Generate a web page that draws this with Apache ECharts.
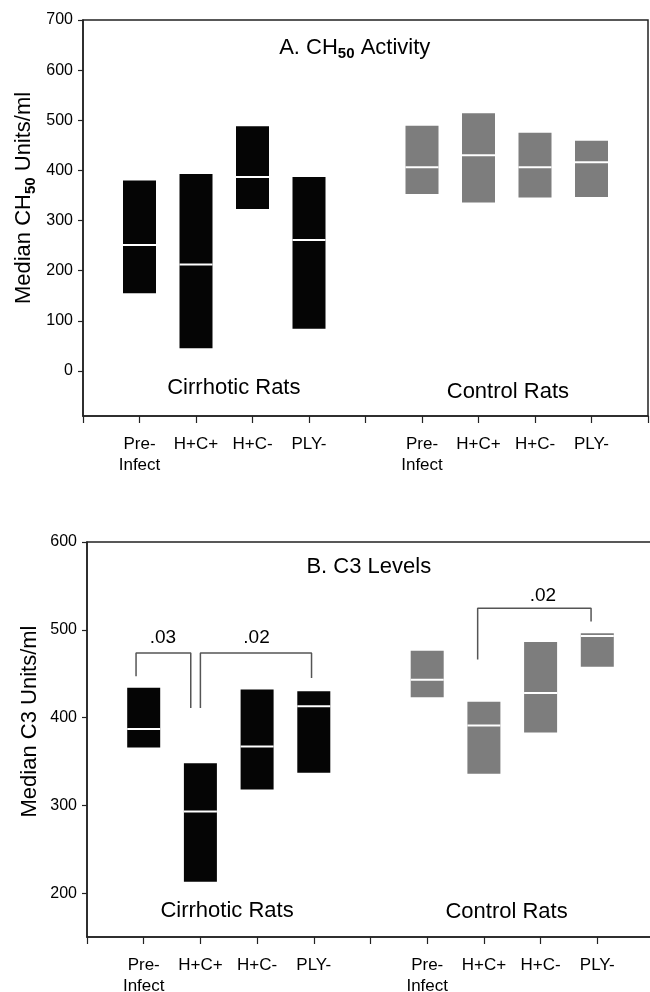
<!DOCTYPE html>
<html><head><meta charset="utf-8">
<script src="https://cdn.jsdelivr.net/npm/echarts@6/dist/echarts.min.js"></script>
<style>html,body{margin:0;padding:0;background:#fff}#c{width:650px;height:992px}</style>
</head><body><div id="c"></div>
<script>
// ---- data ----
const categories = ['', 'Pre-\nInfect', 'H+C+', 'H+C-', 'PLY-', '', 'Pre-\nInfect', 'H+C+', 'H+C-', 'PLY-', ''];
const cirrhoticIdx = [1, 2, 3, 4];
const controlIdx = [6, 7, 8, 9];

// Panel A: CH50 activity (low, median, high)
const ch50CirrLow  = [155, 45, 323, 84];
const ch50CirrMed  = [251, 212, 387, 261];
const ch50CirrHigh = [380, 393, 488, 387];
const ch50CtrlLow  = [353, 336, 346, 347];
const ch50CtrlMed  = [406, 430, 406, 416];
const ch50CtrlHigh = [489, 514, 475, 459];

// Panel B: C3 levels (low, median, high)
const c3CirrLow  = [366, 213, 318, 337];
const c3CirrMed  = [387, 293, 367, 413];
const c3CirrHigh = [434, 348, 432, 430];
const c3CtrlLow  = [423, 336, 383, 458];
const c3CtrlMed  = [443, 391, 428, 493];
const c3CtrlHigh = [476, 418, 486, 496];

const ch50Ticks = [0, 100, 200, 300, 400, 500, 600, 700];
const c3Ticks = [200, 300, 400, 500, 600];

// significance brackets (x in category units, y in data units)
const bracket03 = [[0.865, 447], [0.865, 473.5], [1.83, 473.5], [1.83, 411]];
const bracket02a = [[2.0, 411], [2.0, 473.5], [3.96, 473.5], [3.96, 445]];
const bracket02b = [[6.89, 466], [6.89, 524.6], [8.89, 524.6], [8.89, 509.4]];
const pLabels = [
  { text: '.03', x: 1.34, y: 490.6 },
  { text: '.02', x: 2.99, y: 490.6 },
  { text: '.02', x: 8.04, y: 538.6 }
];
const groupLabelsA = [
  { text: 'Cirrhotic Rats', x: 2.67, y: -34 },
  { text: 'Control Rats', x: 7.52, y: -42 }
];
const groupLabelsB = [
  { text: 'Cirrhotic Rats', x: 2.47, y: 179.5 },
  { text: 'Control Rats', x: 7.40, y: 178 }
];
const titleA = { text: 'A. CH{sub|50} Activity', x: 4.81, y: 645 };
const titleB = { text: 'B. C3 Levels', x: 4.97, y: 571.6 };
const yNameA = { text: 'Median CH{sub|50} Units/ml', x: -1.04, y: 345 };
const yNameB = { text: 'Median C3 Units/ml', x: -1.0, y: 395.5 };

// ---- build ----
const FONT = "'Liberation Sans', Arial, sans-serif";
const TXT = '#000';
const AX = '#222';
function boxes(idx, lo, md, hi) {
  return idx.map((c, i) => [c, lo[i], md[i], hi[i]]);
}
function boxItem(params, api) {
  const x = api.value(0);
  const lo = api.coord([x, api.value(1)]);
  const md = api.coord([x, api.value(2)]);
  const hi = api.coord([x, api.value(3)]);
  const w = 33;
  return {
    type: 'group', children: [
      { type: 'rect', shape: { x: lo[0] - w / 2, y: hi[1], width: w, height: lo[1] - hi[1] }, style: { fill: api.visual('color') } },
      { type: 'line', shape: { x1: md[0] - w / 2, y1: md[1], x2: md[0] + w / 2, y2: md[1] }, style: { stroke: '#fff', lineWidth: 2 } }
    ]
  };
}
const subRich = {
  sub: { fontSize: 15, fontWeight: 'bold', fontFamily: FONT, color: TXT, lineHeight: 14, verticalAlign: 'bottom' }
};
function catAxis(gi) {
  return {
    type: 'category', gridIndex: gi, data: categories, boundaryGap: false,
    axisLine: { onZero: false, lineStyle: { color: AX, width: 1.5 } },
    axisTick: { show: true, interval: 0, length: 7, lineStyle: { color: AX, width: 1.2 } },
    axisLabel: { interval: 0, margin: 18, fontSize: 17, lineHeight: 21, color: TXT, fontFamily: FONT },
    splitLine: { show: false }
  };
}
function valXAxis(gi) {
  return { type: 'value', gridIndex: gi, min: 0, max: 10, show: false };
}
function yAx(gi, min, max, ticks) {
  return {
    type: 'value', gridIndex: gi, min: min, max: max,
    axisLine: { show: true, onZero: false, lineStyle: { color: AX, width: 1.5 } },
    axisTick: { show: true, length: 5, customValues: ticks, lineStyle: { color: AX, width: 1.2 } },
    axisLabel: { customValues: ticks, fontSize: 16, margin: 10, color: TXT, fontFamily: FONT },
    splitLine: { show: false }
  };
}
function textSeries(xi, yi, items, size, rich, rotate) {
  return {
    type: 'scatter', xAxisIndex: xi, yAxisIndex: yi, symbolSize: 0, silent: true, clip: false,
    itemStyle: { opacity: 1 },
    data: items.map(t => ({ value: [t.x, t.y], label: { formatter: t.text } })),
    label: { show: true, position: 'inside', rotate: rotate || 0, fontSize: size, color: TXT, fontFamily: FONT,
      lineHeight: 28, textBorderWidth: 0, opacity: 1, rich: rich || {} }
  };
}
function bracketSeries(xi, yi, pts) {
  return {
    type: 'line', xAxisIndex: xi, yAxisIndex: yi, data: pts, symbol: 'none', silent: true,
    lineStyle: { color: '#555', width: 1.5 }
  };
}

const option = {
  animation: false,
  backgroundColor: '#fff',
  grid: [
    { left: 83, right: 2, top: 20, height: 396, show: true, borderColor: AX, borderWidth: 1.5,
      containLabel: false, outerBoundsMode: 'none' },
    { left: 87, right: -4, top: 542, height: 395, show: true, borderColor: AX, borderWidth: 1.5,
      containLabel: false, outerBoundsMode: 'none' }
  ],
  xAxis: [catAxis(0), valXAxis(0), catAxis(1), valXAxis(1)],
  yAxis: [
    yAx(0, -90, 700, ch50Ticks),
    yAx(1, 150, 600, c3Ticks)
  ],
  series: [
    { type: 'custom', xAxisIndex: 0, yAxisIndex: 0, renderItem: boxItem, itemStyle: { color: '#050505' },
      data: boxes(cirrhoticIdx, ch50CirrLow, ch50CirrMed, ch50CirrHigh), encode: { x: 0, y: [1, 2, 3] } },
    { type: 'custom', xAxisIndex: 0, yAxisIndex: 0, renderItem: boxItem, itemStyle: { color: '#7d7d7d' },
      data: boxes(controlIdx, ch50CtrlLow, ch50CtrlMed, ch50CtrlHigh), encode: { x: 0, y: [1, 2, 3] } },
    { type: 'custom', xAxisIndex: 2, yAxisIndex: 1, renderItem: boxItem, itemStyle: { color: '#050505' },
      data: boxes(cirrhoticIdx, c3CirrLow, c3CirrMed, c3CirrHigh), encode: { x: 0, y: [1, 2, 3] } },
    { type: 'custom', xAxisIndex: 2, yAxisIndex: 1, renderItem: boxItem, itemStyle: { color: '#7d7d7d' },
      data: boxes(controlIdx, c3CtrlLow, c3CtrlMed, c3CtrlHigh), encode: { x: 0, y: [1, 2, 3] } },
    bracketSeries(3, 1, bracket03),
    bracketSeries(3, 1, bracket02a),
    bracketSeries(3, 1, bracket02b),
    textSeries(3, 1, pLabels, 19),
    textSeries(1, 0, groupLabelsA, 22),
    textSeries(3, 1, groupLabelsB, 22),
    textSeries(1, 0, [titleA], 22, subRich),
    textSeries(3, 1, [titleB], 22),
    textSeries(1, 0, [yNameA], 22, subRich, 90),
    textSeries(3, 1, [yNameB], 22, null, 90)
  ]
};
echarts.init(document.getElementById('c'), null, { renderer: 'canvas' }).setOption(option);
</script></body></html>
